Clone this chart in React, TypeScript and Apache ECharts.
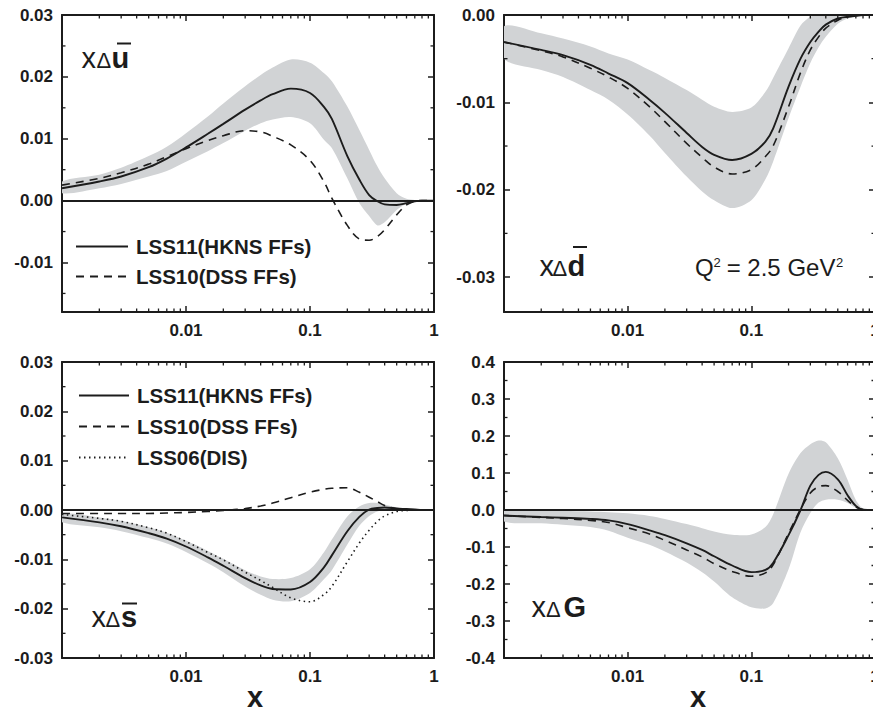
import { useEffect, useRef } from 'react';
import * as echarts from 'echarts';

// ---------- data ----------
const X = [0.001, 0.002, 0.003, 0.005, 0.007, 0.01, 0.015, 0.02, 0.03, 0.04, 0.05, 0.07, 0.1, 0.13, 0.15, 0.2, 0.25, 0.3, 0.35, 0.4, 0.5, 0.6, 0.7, 0.8, 1];

// x Δū
const uSolid = [0.0020, 0.0031, 0.0039, 0.0054, 0.0068, 0.0086, 0.0108, 0.0124, 0.0147, 0.0162, 0.0172, 0.0181, 0.0174, 0.0151, 0.0132, 0.0072, 0.0034, 0.0009, -0.0001, -0.0006, -0.0007, -0.0004, -0.0001, 0, 0];
const uDashed = [0.0025, 0.0036, 0.0045, 0.0059, 0.0071, 0.0084, 0.0097, 0.0105, 0.0113, 0.0111, 0.0104, 0.0090, 0.0065, 0.0030, 0.0004, -0.0040, -0.0062, -0.0064, -0.0058, -0.0047, -0.0023, -0.0007, -0.0001, 0, 0];
const uHi = [0.0031, 0.0042, 0.0053, 0.0072, 0.0087, 0.0109, 0.0136, 0.0157, 0.0185, 0.0203, 0.0215, 0.0228, 0.0223, 0.0206, 0.0193, 0.0152, 0.0114, 0.0082, 0.0055, 0.0036, 0.0012, 0.0003, 0.0001, 0, 0];
const uLo = [0.0012, 0.0020, 0.0027, 0.0039, 0.0048, 0.0063, 0.0080, 0.0093, 0.0113, 0.0125, 0.0131, 0.0135, 0.0125, 0.0098, 0.0085, 0.0036, -0.0004, -0.0025, -0.0040, -0.0035, -0.0015, -0.0005, -0.0001, 0, 0];

// x Δd̄
const dSolid = [-0.0031, -0.0040, -0.0046, -0.0057, -0.0067, -0.0078, -0.0097, -0.0112, -0.0135, -0.0151, -0.0160, -0.0166, -0.0159, -0.0145, -0.0130, -0.0082, -0.0050, -0.0031, -0.0019, -0.0011, -0.0004, -0.0002, -0.0001, 0, 0];
const dDashed = [-0.0031, -0.0041, -0.0048, -0.0061, -0.0071, -0.0084, -0.0105, -0.0122, -0.0147, -0.0163, -0.0174, -0.0182, -0.0177, -0.0162, -0.0150, -0.0105, -0.0066, -0.0040, -0.0025, -0.0015, -0.0006, -0.0002, -0.0001, 0, 0];
const dHi = [-0.0013, -0.0021, -0.0027, -0.0036, -0.0044, -0.0051, -0.0063, -0.0072, -0.0086, -0.0097, -0.0105, -0.0111, -0.0106, -0.0088, -0.0072, -0.0038, -0.0012, -0.0002, 0, 0, 0, 0, 0, 0, 0];
const dLo = [-0.0050, -0.0063, -0.0071, -0.0086, -0.0097, -0.0114, -0.0138, -0.0158, -0.0185, -0.0202, -0.0212, -0.0221, -0.0212, -0.0188, -0.0168, -0.0118, -0.0082, -0.0055, -0.0037, -0.0025, -0.0010, -0.0004, -0.0001, 0, 0];

// x Δs̄
const sSolid = [-0.0015, -0.0025, -0.0033, -0.0047, -0.0058, -0.0074, -0.0096, -0.0113, -0.0138, -0.0153, -0.0160, -0.0161, -0.0146, -0.0116, -0.0092, -0.0043, -0.0014, 0.0001, 0.0004, 0.0005, 0.0003, 0.0002, 0.0001, 0, 0];
const sDashed = [-0.0007, -0.0007, -0.0007, -0.0007, -0.0006, -0.0005, -0.0003, -0.0001, 0.0003, 0.0008, 0.0014, 0.0025, 0.0036, 0.0042, 0.0044, 0.0045, 0.0036, 0.0026, 0.0017, 0.0009, 0.0002, 0, 0, 0, 0];
const sDotted = [-0.0009, -0.0017, -0.0023, -0.0036, -0.0047, -0.0064, -0.0086, -0.0101, -0.0126, -0.0143, -0.0157, -0.0178, -0.0186, -0.0171, -0.0155, -0.0105, -0.0067, -0.0041, -0.0023, -0.0012, -0.0003, -0.0001, 0, 0, 0];
const sHi = [-0.0007, -0.0015, -0.0022, -0.0035, -0.0046, -0.0062, -0.0083, -0.0099, -0.0122, -0.0135, -0.0140, -0.0138, -0.0120, -0.0085, -0.0060, -0.0013, 0.0007, 0.0014, 0.0014, 0.0011, 0.0005, 0.0002, 0.0001, 0, 0];
const sLo = [-0.0025, -0.0035, -0.0043, -0.0057, -0.0068, -0.0085, -0.0108, -0.0126, -0.0155, -0.0172, -0.0182, -0.0185, -0.0168, -0.0140, -0.0122, -0.0070, -0.0032, -0.0012, -0.0003, 0, 0, 0, 0, 0, 0];

// x ΔG
const gSolid = [-0.015, -0.019, -0.021, -0.024, -0.028, -0.038, -0.055, -0.068, -0.090, -0.108, -0.125, -0.150, -0.168, -0.162, -0.143, -0.068, 0.000, 0.066, 0.095, 0.103, 0.083, 0.040, 0.011, 0.001, 0];
const gDashed = [-0.015, -0.020, -0.023, -0.028, -0.034, -0.048, -0.065, -0.082, -0.108, -0.127, -0.145, -0.166, -0.179, -0.170, -0.148, -0.063, 0.002, 0.046, 0.063, 0.066, 0.050, 0.026, 0.008, 0.001, 0];
const gHi = [-0.001, -0.002, -0.003, -0.004, -0.006, -0.009, -0.016, -0.024, -0.038, -0.049, -0.058, -0.067, -0.066, -0.046, -0.012, 0.098, 0.154, 0.178, 0.188, 0.183, 0.140, 0.082, 0.027, 0.004, 0];
const gLo = [-0.031, -0.036, -0.040, -0.046, -0.056, -0.075, -0.094, -0.112, -0.142, -0.168, -0.193, -0.236, -0.263, -0.266, -0.252, -0.160, -0.060, -0.008, 0.020, 0.028, 0.028, 0.019, 0.006, 0.001, 0];

// ticks
const X_MIN = 0.001;
const X_MAX = 1;
const xMinorTicks = [0.002, 0.003, 0.004, 0.005, 0.006, 0.007, 0.008, 0.009, 0.02, 0.03, 0.04, 0.05, 0.06, 0.07, 0.08, 0.09, 0.2, 0.3, 0.4, 0.5, 0.6, 0.7, 0.8, 0.9];
const uTicks = [-0.01, 0, 0.01, 0.02, 0.03];
const uMinor = [-0.015, -0.005, 0.005, 0.015, 0.025];
const dTicks = [-0.03, -0.02, -0.01, 0];
const dMinor = [-0.025, -0.015, -0.005];
const sTicks = [-0.03, -0.02, -0.01, 0, 0.01, 0.02, 0.03];
const sMinor = [-0.025, -0.015, -0.005, 0.005, 0.015, 0.025];
const gTicks = [-0.4, -0.3, -0.2, -0.1, 0, 0.1, 0.2, 0.3, 0.4];
const gMinor = [-0.35, -0.25, -0.15, -0.05, 0.05, 0.15, 0.25, 0.35];

const NAME_SOLID = 'LSS11(HKNS FFs)';
const NAME_DASHED = 'LSS10(DSS FFs)';
const NAME_DOTTED = 'LSS06(DIS)';

// ---------- styling / layout ----------
const FONT = '"Liberation Sans", Arial, Helvetica, sans-serif';
const INK = '#1c1c1c';
const BAND = '#d1d3d5';

const GRIDS = [
  { left: 62, top: 15, width: 372, height: 297 },
  { left: 504, top: 15, width: 371, height: 297 },
  { left: 62, top: 362, width: 372, height: 296 },
  { left: 504, top: 362, width: 371, height: 296 },
];

type Panel = {
  solid: number[]; dashed: number[]; dotted?: number[]; hi: number[]; lo: number[];
  ymin: number; ymax: number; ticks: number[]; minor: number[]; digits: number;
};

const PANELS: Panel[] = [
  { solid: uSolid, dashed: uDashed, hi: uHi, lo: uLo, ymin: -0.018, ymax: 0.03, ticks: uTicks, minor: uMinor, digits: 2 },
  { solid: dSolid, dashed: dDashed, hi: dHi, lo: dLo, ymin: -0.034, ymax: 0, ticks: dTicks, minor: dMinor, digits: 2 },
  { solid: sSolid, dashed: sDashed, dotted: sDotted, hi: sHi, lo: sLo, ymin: -0.03, ymax: 0.03, ticks: sTicks, minor: sMinor, digits: 2 },
  { solid: gSolid, dashed: gDashed, hi: gHi, lo: gLo, ymin: -0.4, ymax: 0.4, ticks: gTicks, minor: gMinor, digits: 1 },
];

const pairs = (ys: number[]) => X.map((x, i) => [x, ys[i]]);
const fmtX = (v: number) => (v < 0.005 ? '' : String(Number(v.toPrecision(3))));

function txt(text: string, x: number, y: number, size: number, weight = 'normal', align = 'left') {
  return {
    type: 'text', x, y, silent: true, z: 20,
    style: { text, fontFamily: FONT, fontSize: size, fontWeight: weight, fill: INK, align, verticalAlign: 'middle' },
  };
}
function bar(x1: number, x2: number, y: number) {
  return { type: 'line', silent: true, z: 20, shape: { x1, y1: y, x2, y2: y }, style: { stroke: INK, lineWidth: 2 } };
}

function buildOption(): any {
  const xAxis: any[] = [];
  const yAxis: any[] = [];
  const series: any[] = [];
  const axisLine = { show: true, onZero: false, lineStyle: { color: INK, width: 2 } };
  const tick = { show: true, inside: true, length: 6, lineStyle: { color: INK, width: 1.5 } };
  const label = { fontFamily: FONT, fontSize: 17, fontWeight: 'bold', color: INK };

  PANELS.forEach((p, i) => {
    xAxis.push({
      type: 'log', logBase: 10, gridIndex: i, min: X_MIN, max: X_MAX, position: 'bottom',
      axisLine, axisTick: tick, splitLine: { show: false },
      axisLabel: { ...label, margin: 10, formatter: fmtX },
    });
    xAxis.push({
      type: 'log', logBase: 10, gridIndex: i, min: X_MIN, max: X_MAX, position: 'top',
      axisLine, axisTick: tick, splitLine: { show: false }, axisLabel: { show: false },
    });
    yAxis.push({
      type: 'value', gridIndex: i, min: p.ymin, max: p.ymax, position: 'left',
      axisLine, axisTick: { ...tick, customValues: p.ticks }, splitLine: { show: false },
      axisLabel: { ...label, margin: 9, customValues: p.ticks, formatter: (v: number) => v.toFixed(p.digits) },
    });
    yAxis.push({
      type: 'value', gridIndex: i, min: p.ymin, max: p.ymax, position: 'right',
      axisLine, axisTick: { ...tick, customValues: p.ticks }, splitLine: { show: false }, axisLabel: { show: false },
    });

    // uncertainty band: one polygon between the hi and lo arrays
    series.push({
      type: 'custom', name: `band${i}`, xAxisIndex: 2 * i, yAxisIndex: 2 * i, silent: true, clip: true, z: 1,
      encode: { x: 0, y: [1, 2] },
      data: X.map((x, j) => [x, p.lo[j], p.hi[j]]),
      renderItem: (params: any, api: any) => {
        if (params.dataIndex !== 0) return null;
        const upper = X.map((x, j) => api.coord([x, p.hi[j]]));
        const lower = X.map((x, j) => api.coord([x, p.lo[j]])).slice(0, -1).reverse();
        return {
          type: 'polygon',
          shape: { points: [...upper, ...lower], smooth: 0.3 },
          style: { fill: BAND, stroke: 'none' },
        };
      },
      markLine: {
        silent: true, symbol: 'none', label: { show: false }, z: 2,
        lineStyle: { color: INK, width: 2.2, type: 'solid' }, data: [{ yAxis: 0 }],
      },
    });

    const base = {
      type: 'line', xAxisIndex: 2 * i, yAxisIndex: 2 * i, symbol: 'none', smooth: 0.35,
      silent: true, emphasis: { disabled: true }, itemStyle: { color: INK },
    };
    if (p.dotted) {
      series.push({ ...base, name: NAME_DOTTED, data: pairs(p.dotted), z: 3,
        lineStyle: { color: INK, width: 1.6, type: [1.5, 3.5] } });
    }
    series.push({ ...base, name: NAME_DASHED, data: pairs(p.dashed), z: 3,
      lineStyle: { color: INK, width: 1.6, type: [8, 6] } });
    series.push({ ...base, name: NAME_SOLID, data: pairs(p.solid), z: 4,
      lineStyle: { color: INK, width: 1.9, type: 'solid' } });

    // minor ticks on all four sides
    const ymid = (p.ymin + p.ymax) / 2;
    series.push({
      type: 'custom', xAxisIndex: 2 * i, yAxisIndex: 2 * i, silent: true, clip: false, z: 6,
      encode: { x: 0, y: 1 },
      data: [...xMinorTicks.map((v) => [v, ymid, 0]), ...p.minor.map((v) => [0.01, v, 1])],
      renderItem: (params: any, api: any) => {
        const cs = params.coordSys;
        const kind = api.value(2);
        const pt = api.coord([api.value(0), api.value(1)]);
        const style = { stroke: INK, lineWidth: 1.3 };
        const L = 3.5;
        if (kind === 0) {
          const x = pt[0];
          return {
            type: 'group', children: [
              { type: 'line', shape: { x1: x, y1: cs.y + cs.height, x2: x, y2: cs.y + cs.height - L }, style },
              { type: 'line', shape: { x1: x, y1: cs.y, x2: x, y2: cs.y + L }, style },
            ],
          };
        }
        const y = pt[1];
        return {
          type: 'group', children: [
            { type: 'line', shape: { x1: cs.x, y1: y, x2: cs.x + L, y2: y }, style },
            { type: 'line', shape: { x1: cs.x + cs.width, y1: y, x2: cs.x + cs.width - L, y2: y }, style },
          ],
        };
      },
    });
  });

  const legendText = { fontFamily: FONT, fontSize: 20.5, fontWeight: 'bold', color: INK, lineHeight: 20, padding: [0, 0, 0, 3] };
  const legendItem = { opacity: 0, borderWidth: 0 };

  return {
    animation: false,
    backgroundColor: '#ffffff',
    textStyle: { fontFamily: FONT },
    grid: GRIDS.map((g) => ({ ...g, containLabel: false, outerBoundsMode: 'none' })),
    xAxis, yAxis, series,
    legend: [
      {
        data: [NAME_SOLID, NAME_DASHED], left: 75, top: 236, orient: 'vertical', padding: 0,
        itemWidth: 52, itemHeight: 14, itemGap: 9, selectedMode: false, textStyle: legendText, itemStyle: legendItem,
      },
      {
        data: [NAME_SOLID, NAME_DASHED, NAME_DOTTED], left: 78, top: 385, orient: 'vertical', padding: 0,
        itemWidth: 50, itemHeight: 14, itemGap: 10, selectedMode: false, textStyle: legendText, itemStyle: legendItem,
      },
    ],
    graphic: [
      // panel titles
      txt('x', 81.5, 58.3, 29), txt('Δ', 96.5, 60.5, 22), txt('u', 111.5, 58, 29, 'bold'), bar(117, 131, 43.5),
      txt('x', 539.5, 266.3, 29), txt('Δ', 552.5, 268.5, 22), txt('d', 567.5, 266, 29, 'bold'), bar(573, 587, 247),
      txt('x', 91.5, 617, 29), txt('Δ', 105.5, 619.2, 22), txt('s', 121, 616.7, 29, 'bold'), bar(122, 137, 603.5),
      txt('x', 531.5, 607, 29), txt('Δ', 546, 609.2, 22), txt('G', 563.5, 606.7, 29, 'bold'),
      // Q^2 label
      txt('Q', 695, 267.7, 24), txt('2', 713.5, 262, 13), txt(' = 2.5 GeV', 720, 267.7, 24), txt('2', 836, 262, 13),
      // axis names
      txt('x', 255, 696.5, 29, 'bold', 'center'), txt('x', 698, 696.5, 29, 'bold', 'center'),
    ],
  };
}

export default function App() {
  const ref = useRef<HTMLDivElement>(null);
  useEffect(() => {
    if (!ref.current) return;
    const chart = echarts.init(ref.current, undefined, { renderer: 'svg' });
    chart.setOption(buildOption());
    return () => chart.dispose();
  }, []);
  return (
    <div
      ref={ref}
      style={{ position: 'absolute', left: 0, top: 0, width: 873, height: 711, background: '#fff' }}
    />
  );
}
